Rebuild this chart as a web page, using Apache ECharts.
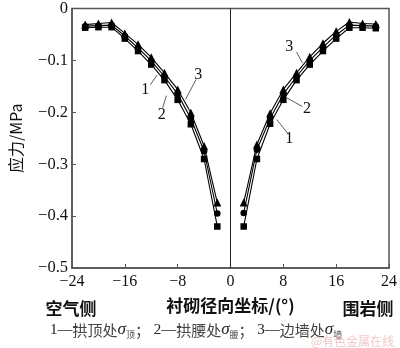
<!DOCTYPE html>
<html><head><meta charset="utf-8">
<script src="https://cdn.jsdelivr.net/npm/echarts@6/dist/echarts.min.js"></script>
<style>html,body{margin:0;padding:0;background:#fff}#c{width:400px;height:348px}</style>
</head><body><div id="c"></div>
<script>
var xLeft = [-22,-20,-18,-16,-14,-12,-10,-8,-6,-4,-2];
var xRight = [2,4,6,8,10,12,14,16,18,20,22];
var s1Left = [-0.037,-0.036,-0.036,-0.058,-0.082,-0.108,-0.138,-0.176,-0.223,-0.290,-0.420];
var s2Left = [-0.034,-0.033,-0.032,-0.053,-0.076,-0.101,-0.131,-0.165,-0.212,-0.275,-0.395];
var s3Left = [-0.031,-0.029,-0.027,-0.048,-0.069,-0.094,-0.124,-0.156,-0.201,-0.265,-0.374];
var s1Right = [-0.420,-0.290,-0.222,-0.176,-0.138,-0.108,-0.082,-0.058,-0.037,-0.037,-0.038];
var s2Right = [-0.394,-0.272,-0.212,-0.165,-0.131,-0.100,-0.075,-0.051,-0.032,-0.033,-0.034];
var s3Right = [-0.374,-0.262,-0.202,-0.156,-0.124,-0.093,-0.067,-0.044,-0.026,-0.029,-0.030];
var seriesSymbols = ['rect','circle','triangle'];
var xTicks = {min:-24, max:24, interval:8};
var yTicks = {min:-0.5, max:0, interval:0.1};
var yName = '应力/MPa';
var xName = '衬砌径向坐标/(°)';
var leftSide = '空气侧';
var rightSide = '围岩侧';
// curve callouts: label text, text anchor, leader line start/end (data coordinates)
var callouts = [
  {t:'1', at:[-12.9,-0.157], a:[-12.15,-0.147], b:[-11.1,-0.128]},
  {t:'2', at:[-10.4,-0.204], a:[-10.27,-0.191], b:[-9.7,-0.168]},
  {t:'3', at:[-4.9,-0.128], a:[-5.23,-0.137], b:[-6.8,-0.175]},
  {t:'3', at:[8.9,-0.073], a:[10.0,-0.084], b:[10.9,-0.105]},
  {t:'2', at:[11.6,-0.194], a:[10.9,-0.189], b:[8.5,-0.172]},
  {t:'1', at:[8.9,-0.252], a:[8.75,-0.242], b:[7.0,-0.214]}
];

var SERIF = '"Liberation Serif","DejaVu Serif",serif';
var CJK = '"Noto Sans CJK SC","Noto Sans CJK JP",sans-serif';
function fmt(v){ if (Math.abs(v) < 1e-9) return '0'; var s = (Math.round(v*10)/10).toString(); return s.replace('-', '\u2212'); }
function pairs(xs, ys){ return xs.map(function(x,i){return [x, ys[i]];}); }

var chart = echarts.init(document.getElementById('c'), null, {renderer:'canvas'});
var curves = [[s1Left,s1Right],[s2Left,s2Right],[s3Left,s3Right]];
var series = [];
curves.forEach(function(c, k){
  [[xLeft,c[0]],[xRight,c[1]]].forEach(function(p){
    series.push({
      type:'line', data:pairs(p[0],p[1]), symbol:seriesSymbols[k],
      symbolSize: seriesSymbols[k]==='triangle'?8:(seriesSymbols[k]==='rect'?6.5:6.5),
      lineStyle:{color:'#000', width:1.1}, itemStyle:{color:'#000'},
      animation:false, z:3
    });
  });
});
series.push({type:'line', data:[], markLine:{silent:true, symbol:'none', animation:false,
  label:{show:false}, lineStyle:{color:'#222', width:1, type:'solid'}, data:[{xAxis:0}]}});

var axisCommon = {
  axisLine:{show:true, onZero:false, lineStyle:{color:'#555', width:1.5}},
  axisTick:{show:true, inside:true, length:4, lineStyle:{color:'#555', width:1}},
  splitLine:{show:false}
};
chart.setOption({
  animation:false,
  grid:{left:58, right:8, top:5, bottom:80, show:true, borderColor:'#555', borderWidth:1.5, containLabel:false},
  xAxis:Object.assign({type:'value', min:xTicks.min, max:xTicks.max, interval:xTicks.interval}, axisCommon,
    {axisLabel:{color:'#111', fontFamily:SERIF, fontSize:16, formatter:fmt, margin:6}}),
  yAxis:Object.assign({type:'value', min:yTicks.min, max:yTicks.max, interval:yTicks.interval,
    name:yName, nameLocation:'middle', nameRotate:90, nameGap:48,
    nameTextStyle:{fontFamily:CJK, fontSize:16, color:'#111'}}, axisCommon,
    {axisLabel:{color:'#111', fontFamily:SERIF, fontSize:16.5, formatter:fmt, margin:4}}),
  series:series
});

var g = [];
callouts.forEach(function(c){
  var p = chart.convertToPixel({gridIndex:0}, c.at);
  var a = chart.convertToPixel({gridIndex:0}, c.a);
  var b = chart.convertToPixel({gridIndex:0}, c.b);
  g.push({type:'text', x:p[0], y:p[1], style:{text:c.t, font:'16px '+SERIF, fill:'#111', align:'center', verticalAlign:'middle'}});
  g.push({type:'line', shape:{x1:a[0], y1:a[1], x2:b[0], y2:b[1]}, style:{stroke:'#333', lineWidth:0.8}});
});
var zero = chart.convertToPixel({gridIndex:0}, [0, yTicks.min]);
g.push({type:'text', x:zero[0], y:306, style:{text:xName, font:'bold 17px '+CJK, fill:'#111', align:'center', verticalAlign:'middle'}});
g.push({type:'text', x:71, y:309, style:{text:leftSide, font:'bold 17px '+CJK, fill:'#111', align:'center', verticalAlign:'middle'}});
g.push({type:'text', x:368, y:309, style:{text:rightSide, font:'bold 17px '+CJK, fill:'#111', align:'center', verticalAlign:'middle'}});
g.push({type:'text', x:50, y:330, style:{
  rich:{
    n:{font:'15px '+SERIF, fill:'#222'},
    c:{font:'15px '+CJK, fill:'#444'},
    s:{font:'italic 17px '+SERIF, fill:'#222'},
    sub:{font:'9px '+CJK, fill:'#444', padding:[9,0,0,0]}
  },
  text:'{n|1—}{c|拱顶处}{s|σ}{sub|顶}{c|；}{n| 2—}{c|拱腰处}{s|σ}{sub|腰}{c|；}{n| 3—}{c|边墙处}{s|σ}{sub|墙}',
  verticalAlign:'middle'}});
g.push({type:'text', x:394, y:341, style:{text:'@有色金属在线', font:'12px '+CJK, fill:'#f0c8c8', align:'right', verticalAlign:'middle'}});
chart.setOption({graphic:g});
</script></body></html>
